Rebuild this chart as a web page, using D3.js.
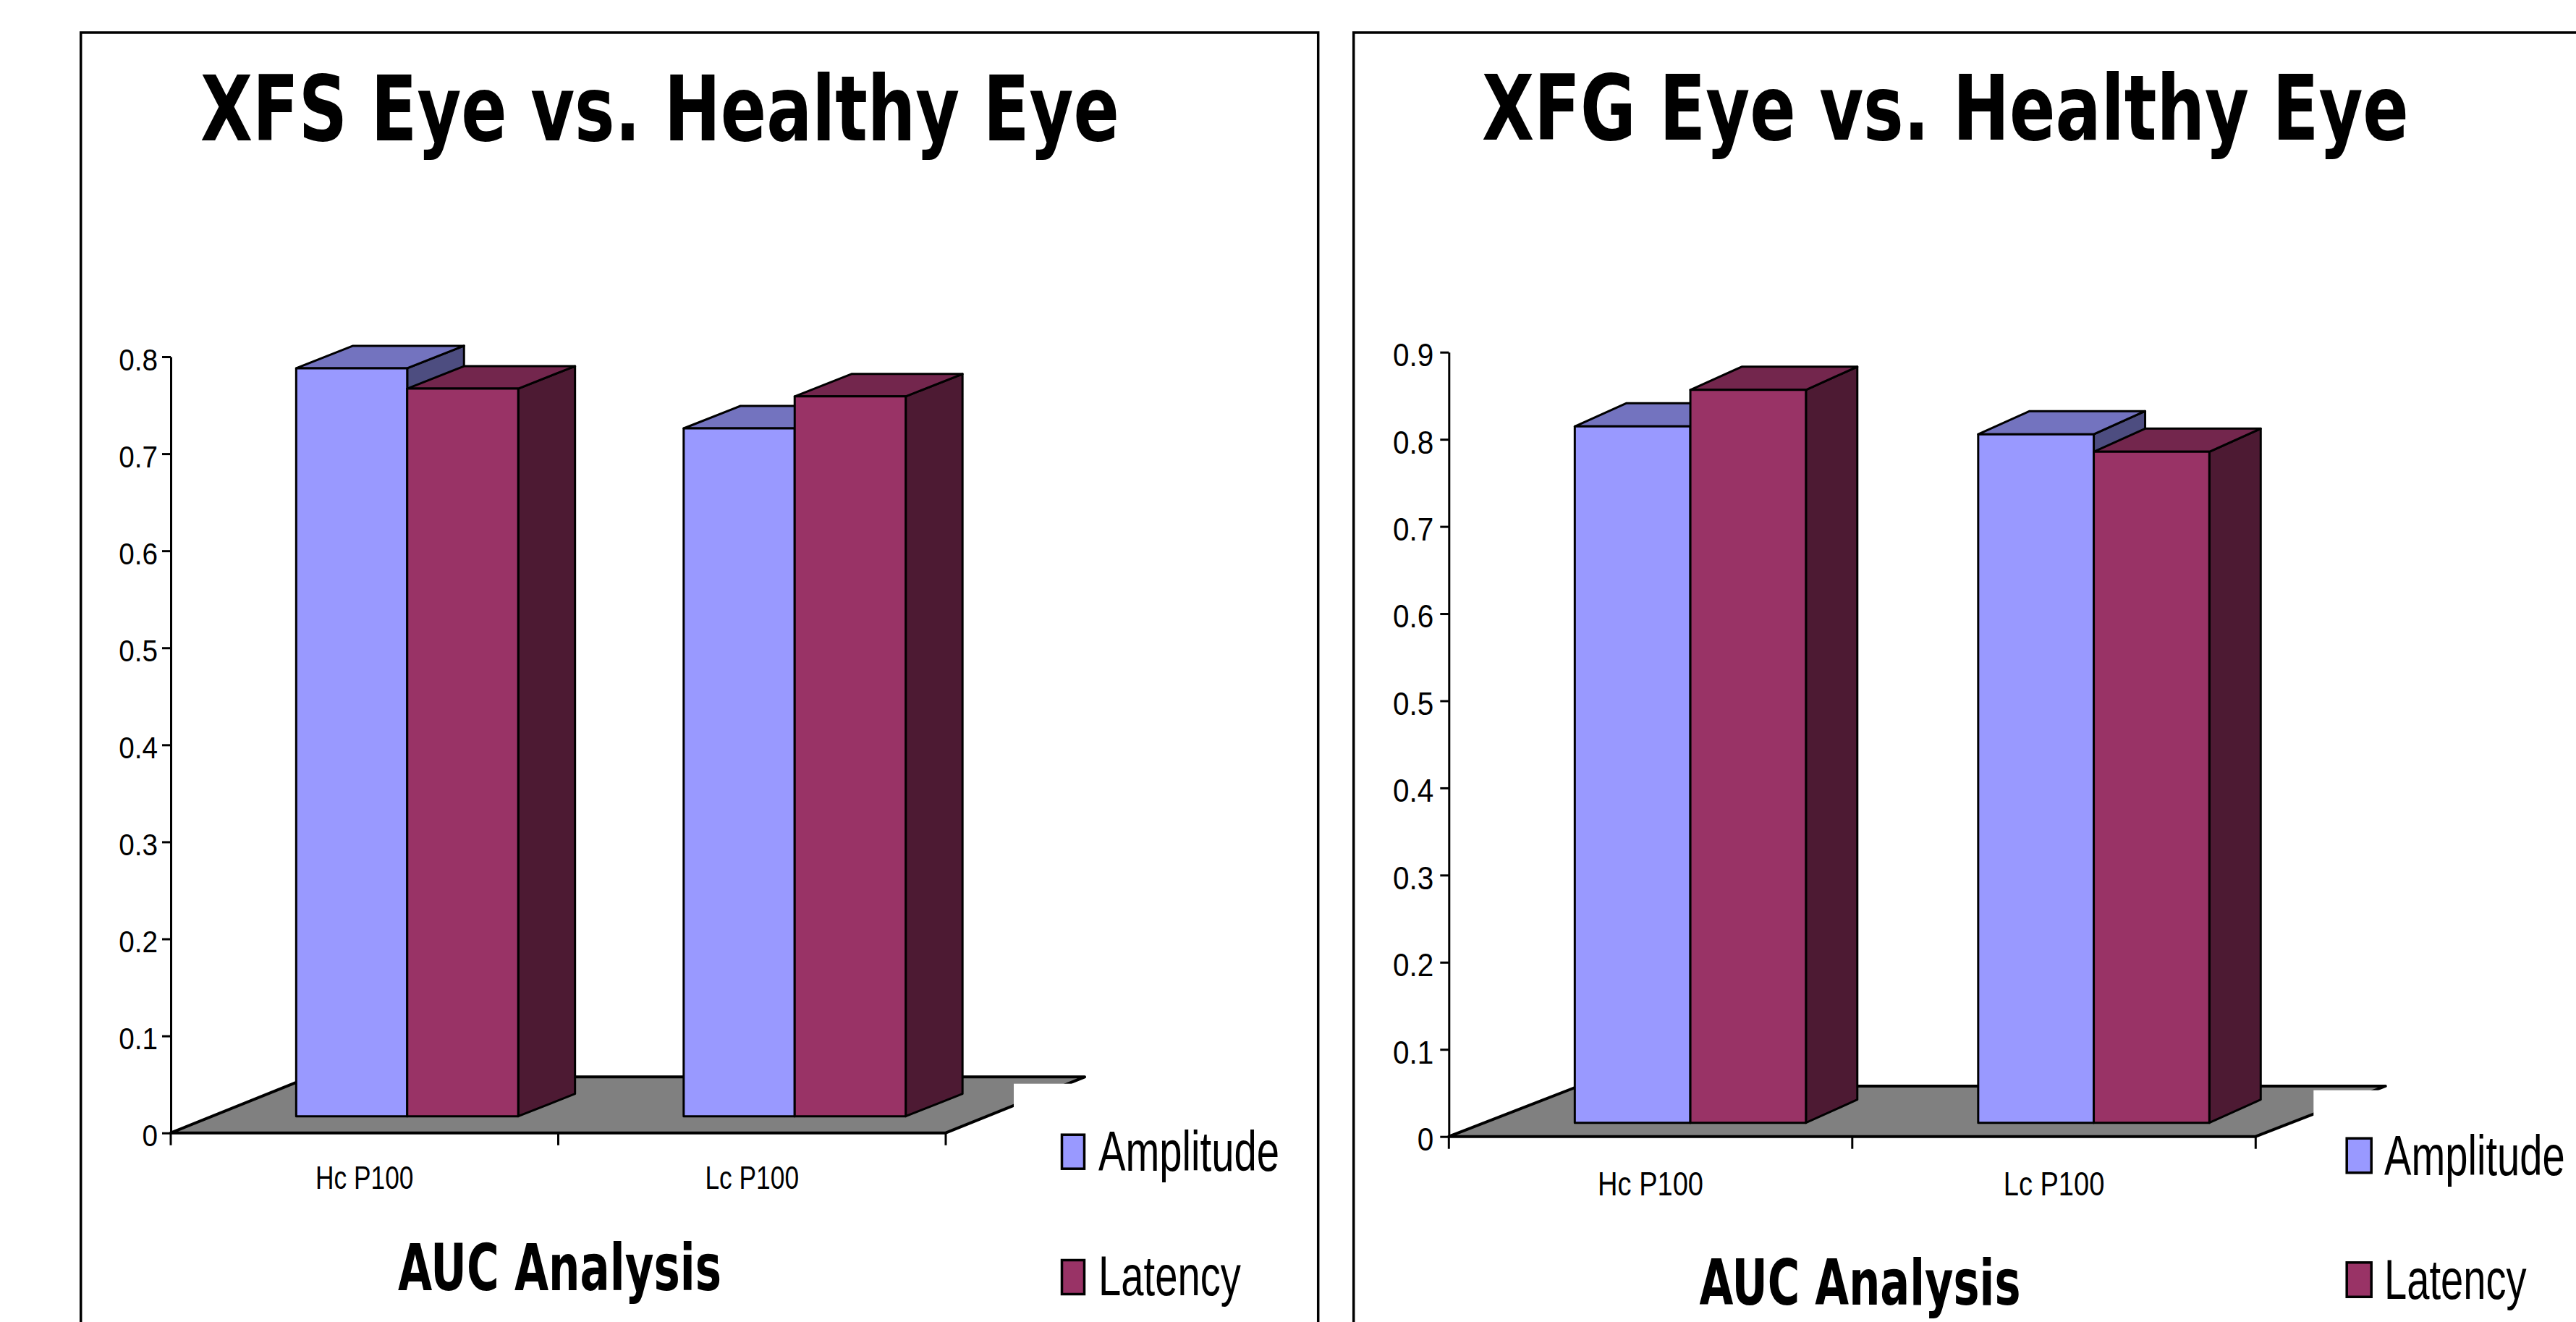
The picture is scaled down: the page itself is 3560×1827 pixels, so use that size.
<!DOCTYPE html>
<html>
<head>
<meta charset="utf-8">
<script src="https://cdn.jsdelivr.net/npm/d3@7"></script>
<style>
  html, body { margin: 0; padding: 0; background: #ffffff; }
  svg { display: block; }
  text { font-family: "Liberation Sans", Arial, Helvetica, sans-serif; fill: #000000; }
  text.heading { font-family: "DejaVu Sans", Verdana, "Liberation Sans", sans-serif; font-weight: bold; }
</style>
</head>
<body>
<svg id="chart" width="3560" height="1827"></svg>
<script>
// ---- data ----
const categories = ["Hc P100", "Lc P100"];
const seriesNames = ["Amplitude", "Latency"];
const xfsAmplitude = [0.771, 0.709];
const xfsLatency = [0.750, 0.742];
const xfgAmplitude = [0.799, 0.790];
const xfgLatency = [0.841, 0.770];
const xfsTicks = [0, 0.1, 0.2, 0.3, 0.4, 0.5, 0.6, 0.7, 0.8];
const xfgTicks = [0, 0.1, 0.2, 0.3, 0.4, 0.5, 0.6, 0.7, 0.8, 0.9];
const panelTitles = ["XFS Eye vs. Healthy Eye", "XFG Eye vs. Healthy Eye"];
const axisTitle = "AUC Analysis";

const seriesColors = ["#9999FF", "#993366"];
const floorColor = "#808080";

// darker shades for the top and side faces of each column
function shade(hex, k) {
  const c = d3.rgb(hex);
  return d3.rgb(c.r * k, c.g * k, c.b * k).formatHex();
}

// narrow a text element horizontally around its anchor point.
// `target(w)` returns the wanted width for a natural width w.
function narrow(sel, target) {
  sel.each(function () {
    const t = d3.select(this);
    const w = this.getComputedTextLength();
    const k = target(w) / w;
    const ax = +t.attr("x") || 0;
    const ay = +t.attr("y") || 0;
    t.attr("x", 0).attr("y", 0)
      .attr("transform", `translate(${ax},${ay}) scale(${k},1)`);
  });
}
const byFactor = f => w => w * f;
const toWidth = px => () => px;

// ---- layout of the two chart panels ----
const panels = [
  {
    title: panelTitles[0], series: [xfsAmplitude, xfsLatency], ticks: xfsTicks,
    frame: { x: 111.7, y: 45, w: 1710, h: 2000 },
    titleX: 277, titleBase: 194, titleSize: 125, titleW: 1270,
    xRange: [236, 1307], yRange: [1565.7, 493], yMax: 0.8,
    floorD: [192, -77.4], barOff: [59, -23], barD: [78.5, -31], groupFrac: 0.573,
    tickFont: 43, tickPad: 6, tickFit: 0.9,
    catGap: 77.6, catFont: 45, catFit: 0.785,
    auc: { x: 550, base: 1783.3, size: 89, w: 447 },
    legendBg: [1401, 1497.7, 405, 320],
    legend: { boxX: 1467.5, boxW: 31, boxH: 47, boxY: [1568.2, 1741.5], textX: 1518, base: [1618, 1790], size: 77, fit: 0.73 }
  },
  {
    title: panelTitles[1], series: [xfgAmplitude, xfgLatency], ticks: xfgTicks,
    frame: { x: 1870.7, y: 45, w: 1700, h: 1800 },
    titleX: 2048, titleBase: 193.3, titleSize: 125, titleW: 1281,
    xRange: [2002.3, 3117.3], yRange: [1570.7, 486.7], yMax: 0.9,
    floorD: [179.4, -69.7], barOff: [55, -19], barD: [71, -32], groupFrac: 0.573,
    tickFont: 45, tickPad: 9, tickFit: 0.9,
    catGap: 81, catFont: 47, catFit: 0.81,
    auc: { x: 2348.5, base: 1803.3, size: 87, w: 444 },
    legendBg: [3197.3, 1506.7, 362, 320],
    legend: { boxX: 3243.2, boxW: 34, boxH: 47.5, boxY: [1573.2, 1744.8], textX: 3295, base: [1624, 1795], size: 78, fit: 0.72 }
  }
];

const svg = d3.select("#chart");

panels.forEach(p => {
  const g = svg.append("g");

  const x = d3.scaleBand().domain(categories).range(p.xRange).paddingInner(0).paddingOuter(0);
  const y = d3.scaleLinear().domain([0, p.yMax]).range(p.yRange);
  const y0 = y(0);
  const [fdx, fdy] = p.floorD;

  // title
  g.append("text")
    .attr("class", "heading")
    .attr("x", p.titleX).attr("y", p.titleBase)
    .attr("font-size", p.titleSize)
    .text(p.title)
    .call(narrow, toWidth(p.titleW));

  // floor
  const x0 = p.xRange[0], x1 = p.xRange[1];
  g.append("polygon")
    .attr("points", [[x0, y0], [x1, y0], [x1 + fdx, y0 + fdy], [x0 + fdx, y0 + fdy]].map(d => d.join(",")).join(" "))
    .attr("fill", floorColor).attr("stroke", "#000").attr("stroke-width", 4).attr("stroke-linejoin", "round");

  // legend background sits over the floor corner
  g.append("rect")
    .attr("x", p.legendBg[0]).attr("y", p.legendBg[1])
    .attr("width", p.legendBg[2]).attr("height", p.legendBg[3])
    .attr("fill", "#ffffff");

  // columns
  const [ox, oy] = p.barOff;
  const [dx, dy] = p.barD;
  categories.forEach((cat, ci) => {
    const gw = x.bandwidth() * p.groupFrac;
    const cx = x(cat) + x.bandwidth() / 2;
    const sub = d3.scaleBand().domain(seriesNames).range([cx - gw / 2, cx + gw / 2]);
    seriesNames.forEach((s, si) => {
      const v = p.series[si][ci];
      const bx = sub(s) + ox;
      const w = sub.bandwidth();
      const yb = y0 + oy;
      const yt = y(v) + oy;
      const col = seriesColors[si];
      const bar = g.append("g").attr("stroke", "#000").attr("stroke-width", 3).attr("stroke-linejoin", "round");
      bar.append("polygon")
        .attr("points", [[bx + w, yt], [bx + w + dx, yt + dy], [bx + w + dx, yb + dy], [bx + w, yb]].map(d => d.join(",")).join(" "))
        .attr("fill", shade(col, 0.5));
      bar.append("polygon")
        .attr("points", [[bx, yt], [bx + w, yt], [bx + w + dx, yt + dy], [bx + dx, yt + dy]].map(d => d.join(",")).join(" "))
        .attr("fill", shade(col, 0.75));
      bar.append("rect")
        .attr("x", bx).attr("y", yt).attr("width", w).attr("height", yb - yt)
        .attr("fill", col);
    });
  });

  // value axis
  const yAxis = g.append("g")
    .attr("transform", `translate(${x0},0)`)
    .call(d3.axisLeft(y).tickValues(p.ticks).tickSize(12).tickSizeOuter(0).tickPadding(p.tickPad)
      .tickFormat(d => d === 0 ? "0" : d3.format(".1f")(d)));
  yAxis.attr("font-family", null).attr("font-size", null);
  yAxis.select(".domain").attr("stroke", "#000").attr("stroke-width", 3);
  yAxis.selectAll(".tick line").attr("stroke", "#000").attr("stroke-width", 3);
  yAxis.selectAll(".tick text")
    .attr("font-size", p.tickFont).attr("fill", "#000").attr("dy", "0.42em")
    .call(narrow, byFactor(p.tickFit));

  // category axis ticks at band edges
  const edges = [x.range()[0]].concat(categories.map(c => x(c) + x.bandwidth()));
  g.selectAll(null).data(edges).enter().append("line")
    .attr("x1", d => d).attr("x2", d => d)
    .attr("y1", y0).attr("y2", y0 + 17)
    .attr("stroke", "#000").attr("stroke-width", 3);

  // category labels
  g.selectAll(null).data(categories).enter().append("text")
    .attr("x", d => x(d) + x.bandwidth() / 2)
    .attr("y", y0 + p.catGap)
    .attr("text-anchor", "middle")
    .attr("font-size", p.catFont)
    .text(d => d)
    .call(narrow, byFactor(p.catFit));

  // category axis title
  g.append("text")
    .attr("class", "heading")
    .attr("x", p.auc.x).attr("y", p.auc.base)
    .attr("font-size", p.auc.size)
    .text(axisTitle)
    .call(narrow, toWidth(p.auc.w));

  // legend
  const L = p.legend;
  seriesNames.forEach((s, si) => {
    g.append("rect")
      .attr("x", L.boxX).attr("y", L.boxY[si])
      .attr("width", L.boxW).attr("height", L.boxH)
      .attr("fill", seriesColors[si]).attr("stroke", "#000").attr("stroke-width", 3.5);
    g.append("text")
      .attr("x", L.textX).attr("y", L.base[si])
      .attr("font-size", L.size)
      .text(s)
      .call(narrow, byFactor(L.fit));
  });

  // panel frame
  g.append("rect")
    .attr("x", p.frame.x).attr("y", p.frame.y)
    .attr("width", p.frame.w).attr("height", p.frame.h)
    .attr("fill", "none").attr("stroke", "#000").attr("stroke-width", 3.5);
});
</script>
</body>
</html>
